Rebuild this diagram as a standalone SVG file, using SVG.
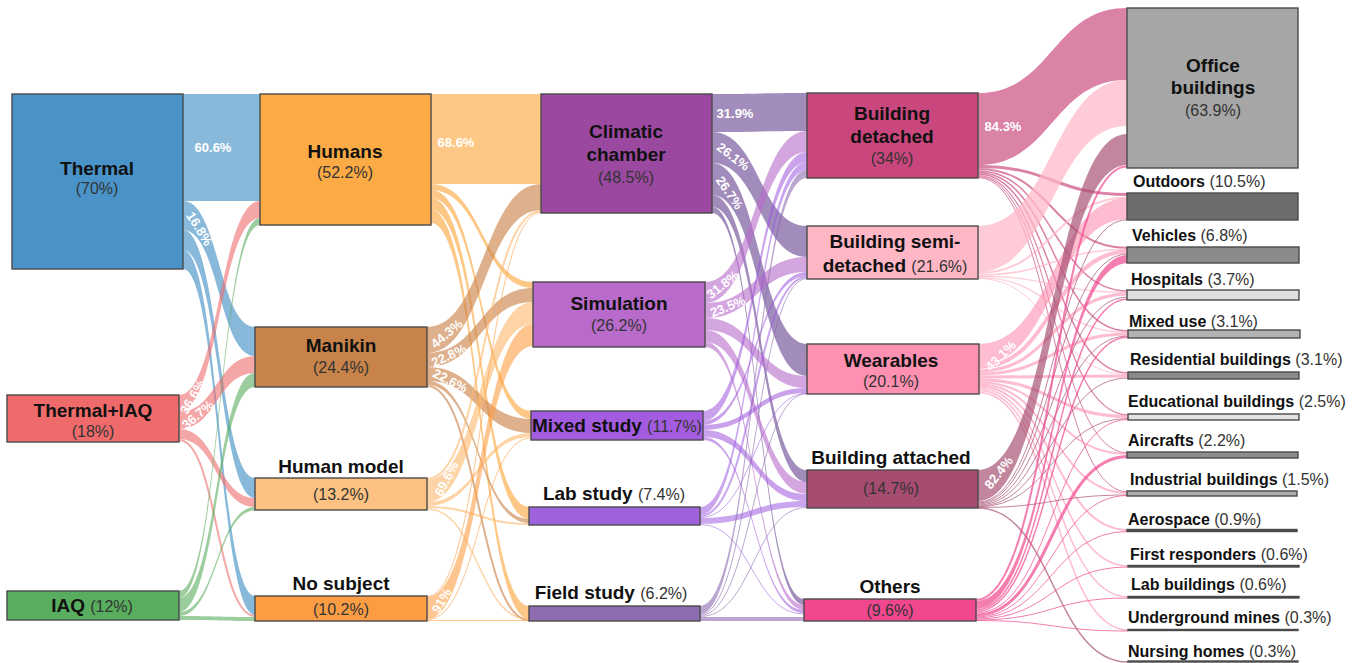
<svg xmlns="http://www.w3.org/2000/svg" width="1359" height="663" viewBox="0 0 1359 663">
<style>
.cT{fill:#4b94c9;stroke:#4b94c9;opacity:.66}
.cTI{fill:#ef6b6b;stroke:#ef6b6b;opacity:.6}
.cI{fill:#5aac5e;stroke:#5aac5e;opacity:.6}
.cH{fill:#fcaa45;stroke:#fcaa45;opacity:.65}
.cM{fill:#c98045;stroke:#c98045;opacity:.62}
.cHM{fill:#fdb86a;stroke:#fdb86a;opacity:.6}
.cNS{fill:#fd9f45;stroke:#fd9f45;opacity:.6}
.cC{fill:#6f4f97;stroke:#6f4f97;opacity:.65}
.cS{fill:#b86bca;stroke:#b86bca;opacity:.6}
.cX{fill:#9f55dc;stroke:#9f55dc;opacity:.55}
.cL{fill:#9d5ce0;stroke:#9d5ce0;opacity:.55}
.cF{fill:#8e6bb0;stroke:#8e6bb0;opacity:.6}
.cBD{fill:#ca477d;stroke:#ca477d;opacity:.68}
.cSD{fill:#ffb7c6;stroke:#ffb7c6;opacity:.72}
.cW{fill:#fd8fb0;stroke:#fd8fb0;opacity:.6}
.cA{fill:#a54c70;stroke:#a54c70;opacity:.68}
.cO{fill:#f1478f;stroke:#f1478f;opacity:.7}
.f{stroke:none}
.s{fill:none}
.n rect{stroke:#4a4a4a;stroke-width:1.4}
.nm{font-family:"Liberation Sans",Arial,sans-serif;font-weight:bold;font-size:19px;fill:#111;text-anchor:middle}
.pc{font-family:"Liberation Sans",Arial,sans-serif;font-weight:normal;font-size:16px;fill:#333}
.pm{font-family:"Liberation Sans",Arial,sans-serif;font-size:16px;fill:#333;text-anchor:middle}
.c5{font-family:"Liberation Sans",Arial,sans-serif;font-weight:bold;font-size:16px;fill:#111}
.ll{font-family:"Liberation Sans",Arial,sans-serif;font-weight:bold;font-size:13px;fill:#fff;text-anchor:middle}
</style>
<rect width="1359" height="663" fill="#fff"/>
<g id="links">
<!-- col1 -> col2 -->
<path class="cT f" d="M183 94H260V201H183Z"/>
<path class="cT f" d="M183 201C219 201 219 327 255 327L255 356C219 356 219 230 183 230Z"/>
<path class="cT f" d="M183 230C219 230 219 478 255 478L255 498C219 498 219 250 183 250Z"/>
<path class="cT f" d="M183 250C219 250 219 596 255 596L255 615C219 615 219 269 183 269Z"/>
<path class="cTI f" d="M179 395C219.5 395 219.5 201 260 201L260 218C219.5 218 219.5 412 179 412Z"/>
<path class="cTI f" d="M179 412C217 412 217 356 255 356L255 373C217 373 217 429 179 429Z"/>
<path class="cTI f" d="M179 429C217 429 217 498 255 498L255 507C217 507 217 439 179 439Z"/>
<path class="cTI s" stroke-width="2" d="M179 440C217 440 217 616 255 616"/>
<path class="cI f" d="M179 591C219.5 591 219.5 218 260 218L260 225C219.5 225 219.5 598 179 598Z"/>
<path class="cI f" d="M179 598C217 598 217 373 255 373L255 387C217 387 217 612 179 612Z"/>
<path class="cI f" d="M179 612C217 612 217 507 255 507L255 510.5C217 510.5 217 616 179 616Z"/>
<path class="cI f" d="M179 616C217 616 217 617 255 617L255 621C217 621 217 620 179 620Z"/>
<!-- col2 -> col3 -->
<path class="cH f" d="M431 94H541V184H431Z"/>
<path class="cH f" d="M431 184C482 184 482 282 533 282L533 288C482 288 482 190 431 190Z"/>
<path class="cH f" d="M431 190C481 190 481 411 531 411L531 419C481 419 481 198 431 198Z"/>
<path class="cH f" d="M431 198C480 198 480 507 529 507L529 519C480 519 480 210 431 210Z"/>
<path class="cH f" d="M431 210C480 210 480 606 529 606L529 619C480 619 480 223 431 223Z"/>
<path class="cM f" d="M427 327C484 327 484 184 541 184L541 210C484 210 484 353 427 353Z"/>
<path class="cM f" d="M427 353C480 353 480 288 533 288L533 302C480 302 480 367 427 367Z"/>
<path class="cM f" d="M427 367C479 367 479 419 531 419L531 433C479 433 479 381 427 381Z"/>
<path class="cM f" d="M427 381C478 381 478 519 529 519L529 523C478 523 478 385 427 385Z"/>
<path class="cM s" stroke-width="2" d="M427 386C478 386 478 620 529 620"/>
<path class="cHM s" stroke-width="2" d="M427 479C484 479 484 211 541 211"/>
<path class="cHM f" d="M427 480C480 480 480 302 533 302L533 324C480 324 480 502 427 502Z"/>
<path class="cHM f" d="M427 502C479 502 479 433 531 433L531 437C479 437 479 506 427 506Z"/>
<path class="cHM s" stroke-width="2" d="M427 507C478 507 478 524 529 524"/>
<path class="cHM s" stroke-width="1.5" d="M427 509C478 509 478 619.5 529 619.5"/>
<path class="cNS s" stroke-width="1" d="M427 596.5C484 596.5 484 212.5 541 212.5"/>
<path class="cNS f" d="M427 597C480 597 480 324 533 324L533 346C480 346 480 619 427 619Z"/>
<path class="cNS s" stroke-width="1" d="M427 619.5C479 619.5 479 438 531 438"/>
<path class="cNS s" stroke-width="1" d="M427 620.5H529"/>
<!-- col3 -> col4 -->
<path class="cC f" d="M712 94C759.5 94 759.5 93 807 93L807 131C759.5 131 759.5 132 712 132Z"/>
<path class="cC f" d="M712 132C759.5 132 759.5 226 807 226L807 257C759.5 257 759.5 163 712 163Z"/>
<path class="cC f" d="M712 163C759.5 163 759.5 344 807 344L807 376C759.5 376 759.5 195 712 195Z"/>
<path class="cC f" d="M712 195C759.5 195 759.5 470 807 470L807 482C759.5 482 759.5 207 712 207Z"/>
<path class="cC f" d="M712 207C758 207 758 599 804 599L804 605C758 605 758 213 712 213Z"/>
<path class="cS f" d="M705 282C756 282 756 131 807 131L807 152C756 152 756 303 705 303Z"/>
<path class="cS f" d="M705 303C756 303 756 257 807 257L807 272C756 272 756 318 705 318Z"/>
<path class="cS f" d="M705 318C756 318 756 376 807 376L807 388C756 388 756 330 705 330Z"/>
<path class="cS f" d="M705 330C756 330 756 482 807 482L807 494C756 494 756 342 705 342Z"/>
<path class="cS f" d="M705 342C754.5 342 754.5 605 804 605L804 610C754.5 610 754.5 347 705 347Z"/>
<path class="cX f" d="M703 411C755 411 755 152 807 152L807 162C755 162 755 421 703 421Z"/>
<path class="cX f" d="M703 421C755 421 755 272 807 272L807 276C755 276 755 425 703 425Z"/>
<path class="cX f" d="M703 425C755 425 755 388 807 388L807 393C755 393 755 430 703 430Z"/>
<path class="cX f" d="M703 430C755 430 755 494 807 494L807 501C755 501 755 437 703 437Z"/>
<path class="cX f" d="M703 437C753.5 437 753.5 610 804 610L804 613C753.5 613 753.5 440 703 440Z"/>
<path class="cL f" d="M700 507C753.5 507 753.5 162 807 162L807 170C753.5 170 753.5 515 700 515Z"/>
<path class="cL s" stroke-width="2" d="M700 516C753.5 516 753.5 277 807 277"/>
<path class="cL s" stroke-width="1" d="M700 517.5C753.5 517.5 753.5 393.5 807 393.5"/>
<path class="cL f" d="M700 518C753.5 518 753.5 501 807 501L807 507C753.5 507 753.5 524 700 524Z"/>
<path class="cL s" stroke-width="1" d="M700 524.5C752 524.5 752 614 804 614"/>
<path class="cF f" d="M700 606C753.5 606 753.5 170 807 170L807 178C753.5 178 753.5 614 700 614Z"/>
<path class="cF s" stroke-width="1" d="M700 614.5C753.5 614.5 753.5 278.5 807 278.5"/>
<path class="cF s" stroke-width="1" d="M700 615.5C753.5 615.5 753.5 393.5 807 393.5"/>
<path class="cF s" stroke-width="1" d="M700 616.5C753.5 616.5 753.5 507.5 807 507.5"/>
<path class="cF f" d="M700 617H804V621H700Z"/>
<!-- col4 -> col5 -->
<path class="cBD f" d="M978 93C1052.5 93 1052.5 8 1127 8L1127 80C1052.5 80 1052.5 165 978 165Z"/>
<path class="cBD s" stroke-width="3" d="M978 166.5C1053 166.5 1053 194.5 1128 194.5"/>
<path class="cBD s" stroke-width="2" d="M978 169C1053 169 1053 248 1128 248"/>
<path class="cBD s" stroke-width="1.5" d="M978 171C1053 171 1053 291 1128 291"/>
<path class="cBD s" stroke-width="1.5" d="M978 172.5C1053 172.5 1053 331 1128 331"/>
<path class="cBD s" stroke-width="1.5" d="M978 174C1053 174 1053 373 1128 373"/>
<path class="cBD s" stroke-width="1.2" d="M978 175.5C1053 175.5 1053 415 1128 415"/>
<path class="cBD s" stroke-width="1" d="M978 176.5C1053 176.5 1053 453 1128 453"/>
<path class="cBD s" stroke-width="1" d="M978 177.5C1053 177.5 1053 492 1128 492"/>
<path class="cSD f" d="M978 226C1052.5 226 1052.5 80 1127 80L1127 126C1052.5 126 1052.5 272 978 272Z"/>
<path class="cSD s" stroke-width="2" d="M978 273C1053 273 1053 197.5 1128 197.5"/>
<path class="cSD s" stroke-width="1.5" d="M978 275C1053 275 1053 249.5 1128 249.5"/>
<path class="cSD s" stroke-width="1.2" d="M978 276.3C1053 276.3 1053 292.3 1128 292.3"/>
<path class="cSD s" stroke-width="1.2" d="M978 277.5C1053 277.5 1053 332.5 1128 332.5"/>
<path class="cSD s" stroke-width="1" d="M978 278.5C1053 278.5 1053 374.5 1128 374.5"/>
<path class="cW f" d="M979 344C1053.5 344 1053.5 198 1128 198L1128 219C1053.5 219 1053.5 365 979 365Z"/>
<path class="cW s" stroke-width="4" d="M979 367C1053.5 367 1053.5 251.5 1128 251.5"/>
<path class="cW s" stroke-width="3" d="M979 371C1053.5 371 1053.5 294 1128 294"/>
<path class="cW s" stroke-width="3" d="M979 374C1053.5 374 1053.5 334 1128 334"/>
<path class="cW s" stroke-width="3" d="M979 377C1053.5 377 1053.5 376 1128 376"/>
<path class="cW s" stroke-width="3" d="M979 380C1053.5 380 1053.5 416.5 1128 416.5"/>
<path class="cW s" stroke-width="2" d="M979 382.5C1053.5 382.5 1053.5 454 1128 454"/>
<path class="cW s" stroke-width="2" d="M979 384.5C1053.5 384.5 1053.5 493 1128 493"/>
<path class="cW s" stroke-width="2" d="M979 386.5C1053.5 386.5 1053.5 530 1128 530"/>
<path class="cW s" stroke-width="1.5" d="M979 388.5C1053.5 388.5 1053.5 566 1128 566"/>
<path class="cW s" stroke-width="1.5" d="M979 390.5C1053.5 390.5 1053.5 597 1128 597"/>
<path class="cW s" stroke-width="1.5" d="M979 392.5C1053.5 392.5 1053.5 630 1128 630"/>
<path class="cA f" d="M978 470C1052.5 470 1052.5 134 1127 134L1127 165C1052.5 165 1052.5 501 978 501Z"/>
<path class="cA s" stroke-width="1" d="M978 502C1053 502 1053 219.5 1128 219.5"/>
<path class="cA s" stroke-width="1" d="M978 503C1053 503 1053 254 1128 254"/>
<path class="cA s" stroke-width="1" d="M978 504C1053 504 1053 297 1128 297"/>
<path class="cA s" stroke-width="1" d="M978 505C1053 505 1053 336 1128 336"/>
<path class="cA s" stroke-width="1" d="M978 506C1053 506 1053 378 1128 378"/>
<path class="cA s" stroke-width="1" d="M978 506.8C1053 506.8 1053 418.5 1128 418.5"/>
<path class="cA s" stroke-width="1" d="M978 507.5C1053 507.5 1053 495 1128 495"/>
<path class="cA s" stroke-width="1.5" d="M978 508C1053 508 1053 662 1128 662"/>
<path class="cO s" stroke-width="2" d="M976 600C1052 600 1052 166.5 1127 166.5"/>
<path class="cO f" d="M976 601C1052 601 1052 255 1128 255L1128 263C1052 263 1052 609 976 609Z"/>
<path class="cO s" stroke-width="1.5" d="M976 610C1052 610 1052 299 1128 299"/>
<path class="cO s" stroke-width="1.5" d="M976 611.5C1052 611.5 1052 337 1128 337"/>
<path class="cO s" stroke-width="1" d="M976 613C1052 613 1052 419.5 1128 419.5"/>
<path class="cO s" stroke-width="3" d="M976 615C1052 615 1052 456.5 1128 456.5"/>
<path class="cO s" stroke-width="1" d="M976 617C1052 617 1052 495.5 1128 495.5"/>
<path class="cO s" stroke-width="1" d="M976 618C1052 618 1052 531.5 1128 531.5"/>
<path class="cO s" stroke-width="1" d="M976 619C1052 619 1052 567 1128 567"/>
<path class="cO s" stroke-width="1" d="M976 620C1052 620 1052 598 1128 598"/>
<path class="cO s" stroke-width="1" d="M976 620.5C1052 620.5 1052 631 1128 631"/>
<!-- link labels -->
<text class="ll" x="213" y="152">60.6%</text>
<text class="ll" transform="translate(199 229) rotate(58)" dy="4">16.8%</text>
<text class="ll" transform="translate(193 397) rotate(-60)" dy="4">36.6%</text>
<text class="ll" transform="translate(198 415) rotate(-40)" dy="4">36.7%</text>
<text class="ll" x="456" y="147">68.6%</text>
<text class="ll" transform="translate(447 334) rotate(-40)" dy="4">44.3%</text>
<text class="ll" transform="translate(449 356) rotate(-25)" dy="4">22.8%</text>
<text class="ll" transform="translate(450 381) rotate(27)" dy="4">22.6%</text>
<text class="ll" transform="translate(447 479) rotate(-62)" dy="4">69.6%</text>
<text class="ll" transform="translate(442 601) rotate(-60)" dy="4">91%</text>
<text class="ll" x="735" y="118">31.9%</text>
<text class="ll" transform="translate(733 157) rotate(37)" dy="4">26.1%</text>
<text class="ll" transform="translate(729 193) rotate(55)" dy="4">26.7%</text>
<text class="ll" transform="translate(723 285) rotate(-38)" dy="4">31.8%</text>
<text class="ll" transform="translate(728 307) rotate(-22)" dy="4">23.5%</text>
<text class="ll" x="1003" y="131">84.3%</text>
<text class="ll" transform="translate(1001 356) rotate(-45)" dy="4">43.1%</text>
<text class="ll" transform="translate(999 473) rotate(-52)" dy="4">82.4%</text>
</g>
<!-- column 1 -->
<g id="n-thermal" class="n"><rect x="12" y="94" width="171" height="175" fill="#4a93c9"/><text class="nm" x="97" y="175">Thermal</text><text class="pm" x="97" y="194">(70%)</text></g>
<g id="n-thermal-iaq" class="n"><rect x="7" y="395" width="172" height="47" fill="#ef6b6b"/><text class="nm" x="93" y="417">Thermal+IAQ</text><text class="pm" x="93" y="437">(18%)</text></g>
<g id="n-iaq" class="n"><rect x="7" y="591" width="172" height="29" fill="#58ae5e"/><text class="nm" x="92" y="612">IAQ <tspan class="pc">(12%)</tspan></text></g>
<!-- column 2 -->
<g id="n-humans" class="n"><rect x="260" y="94" width="171" height="131" fill="#fcaa45"/><text class="nm" x="345" y="158">Humans</text><text class="pm" x="345" y="178">(52.2%)</text></g>
<g id="n-manikin" class="n"><rect x="255" y="327" width="172" height="60" fill="#c8834a"/><text class="nm" x="341" y="352">Manikin</text><text class="pm" x="341" y="373">(24.4%)</text></g>
<g id="n-human-model" class="n"><rect x="255" y="478" width="172" height="32" fill="#fdc281"/><text class="nm" x="341" y="473">Human model</text><text class="pm" x="341" y="500">(13.2%)</text></g>
<g id="n-no-subject" class="n"><rect x="255" y="596" width="172" height="25" fill="#fd9d43"/><text class="nm" x="341" y="590">No subject</text><text class="pm" x="341" y="615">(10.2%)</text></g>
<!-- column 3 -->
<g id="n-climatic" class="n"><rect x="541" y="94" width="171" height="119" fill="#9b48a0"/><text class="nm" x="626" y="138">Climatic</text><text class="nm" x="626" y="161">chamber</text><text class="pm" x="626" y="183">(48.5%)</text></g>
<g id="n-simulation" class="n"><rect x="533" y="282" width="172" height="65" fill="#b86bca"/><text class="nm" x="619" y="310">Simulation</text><text class="pm" x="619" y="331">(26.2%)</text></g>
<g id="n-mixed-study" class="n"><rect x="531" y="411" width="172" height="29" fill="#a35ce0"/><text class="nm" x="617" y="432">Mixed study <tspan class="pc">(11.7%)</tspan></text></g>
<g id="n-lab-study" class="n"><rect x="529" y="507" width="171" height="18" fill="#a061dd"/><text class="nm" x="614" y="500">Lab study <tspan class="pc">(7.4%)</tspan></text></g>
<g id="n-field-study" class="n"><rect x="529" y="606" width="171" height="15" fill="#8e6cb0"/><text class="nm" x="611" y="599">Field study <tspan class="pc">(6.2%)</tspan></text></g>
<!-- column 4 -->
<g id="n-building-detached" class="n"><rect x="807" y="93" width="171" height="85" fill="#ca477d"/><text class="nm" x="892" y="120">Building</text><text class="nm" x="892" y="143">detached</text><text class="pm" x="892" y="164">(34%)</text></g>
<g id="n-building-semi" class="n"><rect x="807" y="226" width="171" height="53" fill="#ffb7c6"/><text class="nm" x="895" y="248">Building semi-</text><text class="nm" x="895" y="272">detached <tspan class="pc">(21.6%)</tspan></text></g>
<g id="n-wearables" class="n"><rect x="807" y="344" width="172" height="50" fill="#fe91b1"/><text class="nm" x="891" y="367">Wearables</text><text class="pm" x="891" y="387">(20.1%)</text></g>
<g id="n-building-attached" class="n"><rect x="807" y="470" width="171" height="38" fill="#a54c70"/><text class="nm" x="891" y="464">Building attached</text><text class="pm" x="891" y="494">(14.7%)</text></g>
<g id="n-others" class="n"><rect x="804" y="599" width="172" height="22" fill="#f1478f"/><text class="nm" x="890" y="593">Others</text><text class="pm" x="890" y="616">(9.6%)</text></g>
<!-- column 5 -->
<g id="n-office" class="n"><rect x="1127" y="8" width="171" height="160" fill="#a6a6a6"/><text class="nm" x="1213" y="72">Office</text><text class="nm" x="1213" y="94">buildings</text><text class="pm" x="1213" y="116">(63.9%)</text></g>
<g id="n-outdoors" class="n"><rect x="1127" y="193" width="171" height="27" fill="#6d6d6d"/><text class="c5" x="1133" y="187">Outdoors <tspan class="pc">(10.5%)</tspan></text></g>
<g id="n-vehicles" class="n"><rect x="1127" y="247" width="172" height="16" fill="#8a8a8a"/><text class="c5" x="1132" y="241">Vehicles <tspan class="pc">(6.8%)</tspan></text></g>
<g id="n-hospitals" class="n"><rect x="1127" y="290" width="172" height="10" fill="#dedede"/><text class="c5" x="1131" y="285">Hospitals <tspan class="pc">(3.7%)</tspan></text></g>
<g id="n-mixed-use" class="n"><rect x="1128" y="330" width="172" height="8" fill="#b3b3b3"/><text class="c5" x="1129" y="327">Mixed use <tspan class="pc">(3.1%)</tspan></text></g>
<g id="n-residential" class="n"><rect x="1128" y="372" width="171" height="7" fill="#8a8a8a"/><text class="c5" x="1130" y="365">Residential buildings <tspan class="pc">(3.1%)</tspan></text></g>
<g id="n-educational" class="n"><rect x="1128" y="414" width="171" height="6" fill="#e2e2e2"/><text class="c5" x="1128" y="407">Educational buildings <tspan class="pc">(2.5%)</tspan></text></g>
<g id="n-aircrafts" class="n"><rect x="1127" y="452" width="171" height="6" fill="#8d8d8d"/><text class="c5" x="1128" y="446">Aircrafts <tspan class="pc">(2.2%)</tspan></text></g>
<g id="n-industrial" class="n"><rect x="1127" y="491" width="170" height="5" fill="#aeaeae"/><text class="c5" x="1130" y="485">Industrial buildings <tspan class="pc">(1.5%)</tspan></text></g>
<g id="n-aerospace" class="n"><rect x="1127" y="529.5" width="170" height="2" fill="#555"/><text class="c5" x="1128" y="525">Aerospace <tspan class="pc">(0.9%)</tspan></text></g>
<g id="n-first-responders" class="n"><rect x="1128" y="565.5" width="171" height="1.5" fill="#444"/><text class="c5" x="1130" y="560">First responders <tspan class="pc">(0.6%)</tspan></text></g>
<g id="n-lab-buildings" class="n"><rect x="1128" y="596.5" width="171" height="1.5" fill="#333"/><text class="c5" x="1131" y="590">Lab buildings <tspan class="pc">(0.6%)</tspan></text></g>
<g id="n-underground" class="n"><rect x="1128" y="629.5" width="170" height="1" fill="#222"/><text class="c5" x="1128" y="623">Underground mines <tspan class="pc">(0.3%)</tspan></text></g>
<g id="n-nursing" class="n"><rect x="1128" y="661" width="170" height="1" fill="#222"/><text class="c5" x="1128" y="657">Nursing homes <tspan class="pc">(0.3%)</tspan></text></g>
</svg>
